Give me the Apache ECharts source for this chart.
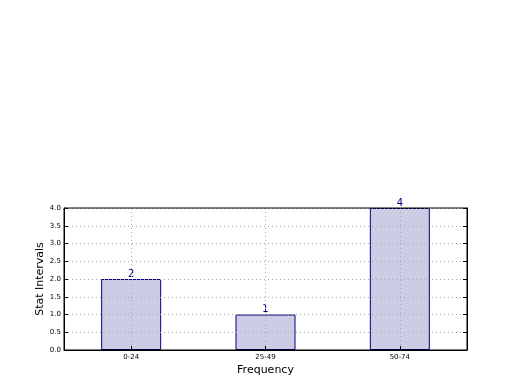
<!DOCTYPE html>
<html><head><meta charset="utf-8">
<script src="https://cdn.jsdelivr.net/npm/echarts@6/dist/echarts.min.js"></script>
<style>html,body{margin:0;padding:0;background:#fff}#c{width:520px;height:390px}</style>
</head><body><div id="c"></div>
<script>
const categories = ['0-24', '25-49', '50-74'];
const values = [2, 1, 4];
const yTicks = [0, 0.5, 1, 1.5, 2, 2.5, 3, 3.5, 4];

const chart = echarts.init(document.getElementById('c'));
const font = 'DejaVu Sans';
const gridLine = {show: true, lineStyle: {color: '#a8a8a8', type: [1, 3], width: 1}};
// helper axis: half-category positions so vertical grid lines fall on category centres
const halfSlots = [];
for (let i = 0; i <= categories.length * 2; i++) halfSlots.push(String(i));
chart.setOption({
  animation: false,
  textStyle: {fontFamily: font},
  grid: {left: 64, right: 53, top: 208, bottom: 40, show: true, borderColor: '#000', borderWidth: 1, z: 6},
  xAxis: [{
    type: 'category', data: categories, z: 5,
    name: 'Frequency', nameLocation: 'middle', nameGap: 15, nameMoveOverlap: false,
    nameTextStyle: {fontSize: 11, color: '#000', fontFamily: font},
    axisLine: {show: true, lineStyle: {color: '#000'}},
    axisTick: {show: true, inside: true, alignWithLabel: true, length: 4, lineStyle: {color: '#000'}},
    axisLabel: {fontSize: 7, color: '#000', margin: 4, fontFamily: font},
    splitLine: {show: false}
  }, {
    type: 'category', data: halfSlots, boundaryGap: false, position: 'top', z: 5,
    axisLine: {show: false}, axisLabel: {show: false}, axisTick: {show: false},
    splitLine: {show: true, interval: (i) => i % 2 === 1, lineStyle: {color: '#a8a8a8', type: [1, 3], width: 1}}
  }],
  yAxis: [{
    type: 'value', min: 0, max: 4, interval: 0.5, z: 5,
    name: 'Stat Intervals', nameLocation: 'middle', nameGap: 18, nameMoveOverlap: false,
    nameTextStyle: {fontSize: 11, color: '#000', fontFamily: font},
    axisLine: {show: true, lineStyle: {color: '#000'}},
    axisTick: {show: true, inside: true, length: 4, lineStyle: {color: '#000'}},
    axisLabel: {fontSize: 7, color: '#000', margin: 3, fontFamily: font,
      formatter: v => v.toFixed(1)},
    splitLine: gridLine
  }, {
    type: 'value', min: 0, max: 4, interval: 0.5, position: 'right', z: 5,
    axisLine: {show: true, lineStyle: {color: '#000'}},
    axisTick: {show: true, inside: true, length: 4, lineStyle: {color: '#000'}},
    axisLabel: {show: false}, splitLine: {show: false}
  }],
  series: [{
    type: 'bar', data: values, barWidth: 60, z: 2,
    itemStyle: {color: '#ccccE5', borderColor: '#000080', borderWidth: 1},
    label: {show: true, position: 'top', distance: 0, fontSize: 10, color: '#000080', fontFamily: font}
  }]
});
</script></body></html>
